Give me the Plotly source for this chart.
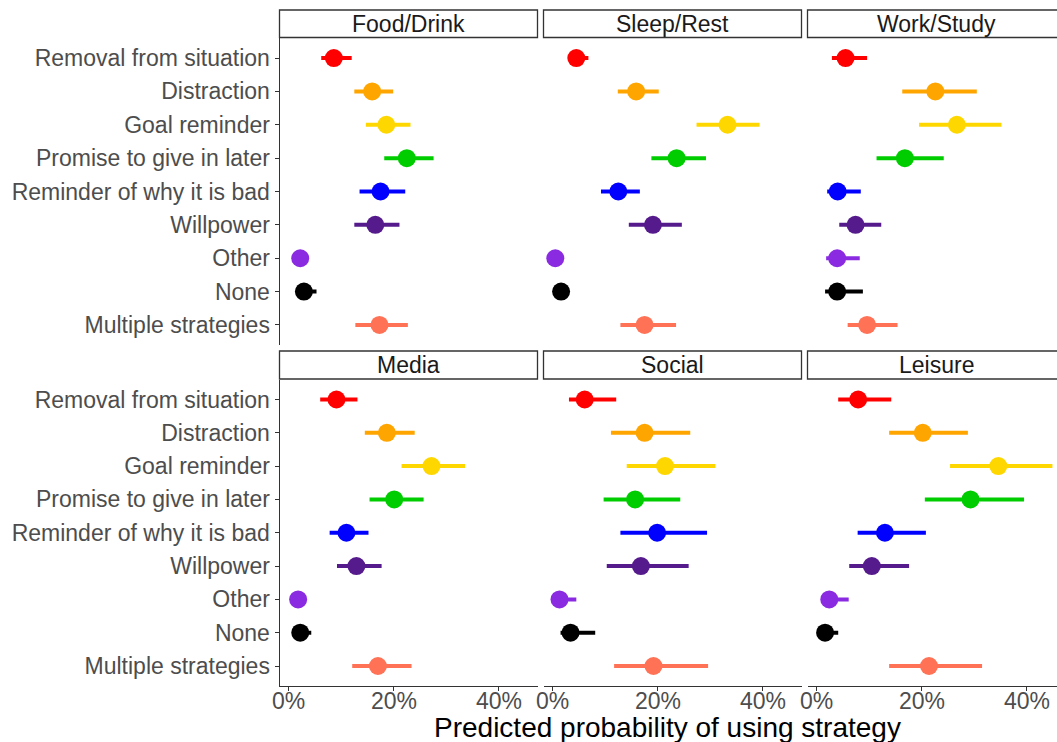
import plotly.graph_objects as go

strategies = ["Removal from situation", "Distraction", "Goal reminder",
              "Promise to give in later", "Reminder of why it is bad",
              "Willpower", "Other", "None", "Multiple strategies"]
colors = ["#FF0000", "#FFA500", "#FFD700", "#00CD00", "#0000FF",
          "#551A8B", "#8A2BE2", "#000000", "#FF7256"]
panels = ["Food/Drink", "Sleep/Rest", "Work/Study", "Media", "Social", "Leisure"]
x_tick_vals = [0, 20, 40]
x_tick_text = ["0%", "20%", "40%"]

food_est = [8.6, 15.9, 18.6, 22.5, 17.5, 16.5, 2.2, 2.9, 17.3]
food_lo = [6.2, 12.5, 14.7, 18.2, 13.5, 12.5, 1.4, 1.8, 12.7]
food_hi = [12.0, 19.9, 23.2, 27.6, 22.2, 21.1, 3.2, 5.3, 22.7]

sleep_est = [4.5, 15.9, 33.3, 23.6, 12.5, 19.1, 0.5, 1.6, 17.5]
sleep_lo = [3.0, 12.4, 27.4, 18.8, 9.2, 14.5, 0.2, 0.9, 12.9]
sleep_hi = [6.8, 20.2, 39.4, 29.2, 16.6, 24.6, 1.2, 2.6, 23.5]

work_est = [5.5, 22.6, 26.7, 16.8, 4.0, 7.4, 3.9, 3.9, 9.6]
work_lo = [2.9, 16.3, 19.5, 11.4, 2.0, 4.3, 1.8, 1.6, 5.9]
work_hi = [9.6, 30.5, 35.2, 24.2, 8.4, 12.3, 8.2, 8.8, 15.4]

media_est = [9.1, 18.7, 27.2, 20.1, 11.0, 12.9, 1.8, 2.2, 17.0]
media_lo = [6.0, 14.5, 21.5, 15.4, 7.8, 9.2, 1.1, 1.4, 12.1]
media_hi = [13.1, 24.0, 33.6, 25.7, 15.2, 17.7, 3.2, 4.3, 23.4]

social_est = [6.1, 17.5, 21.4, 15.7, 19.9, 16.8, 1.3, 3.4, 19.2]
social_lo = [3.1, 11.1, 14.1, 9.7, 12.9, 10.3, 0.5, 1.5, 11.7]
social_hi = [12.1, 26.2, 31.0, 24.3, 29.4, 25.9, 4.5, 8.1, 29.6]

leisure_est = [7.9, 20.2, 34.6, 29.3, 13.0, 10.5, 2.4, 1.6, 21.4]
leisure_lo = [4.1, 13.8, 25.4, 20.6, 7.8, 6.2, 1.0, 0.8, 13.8]
leisure_hi = [14.2, 28.8, 44.9, 39.5, 20.8, 17.6, 6.1, 4.1, 31.5]

panel_data = [
    (food_est, food_lo, food_hi),
    (sleep_est, sleep_lo, sleep_hi),
    (work_est, work_lo, work_hi),
    (media_est, media_lo, media_hi),
    (social_est, social_lo, social_hi),
    (leisure_est, leisure_lo, leisure_hi),
]

W, H = 1057, 742
FONT = "Liberation Sans, Arial, sans-serif"
col_left = [279.5, 543.5, 807.5]
panel_w = 258
pxpp = 5.25          # pixels per percentage point
xmin = -1.75
row_top = [38, 379.5]
row_bot = [345, 686]
strip_top = [10, 351]
strip_bot = [37.5, 379]

fig = go.Figure()
layout = dict(
    width=W, height=H, margin=dict(l=0, r=0, t=0, b=0, autoexpand=False),
    paper_bgcolor="white", plot_bgcolor="white", showlegend=False,
    font=dict(family=FONT),
)
shapes = []
annotations = []

for i, (name, (est, lo, hi)) in enumerate(zip(panels, panel_data)):
    r, c = divmod(i, 3)
    n = i + 1
    xname = "x" if n == 1 else f"x{n}"
    yname = "y" if n == 1 else f"y{n}"
    for k in range(len(strategies)):
        fig.add_trace(go.Scatter(
            x=[est[k]], y=[k + 1], mode="markers",
            marker=dict(size=18, color=colors[k], line=dict(width=0)),
            error_x=dict(type="data", symmetric=False,
                         array=[hi[k] - est[k]], arrayminus=[est[k] - lo[k]],
                         color=colors[k], thickness=4, width=0),
            xaxis=xname, yaxis=yname, hoverinfo="skip",
        ))
    left = col_left[c]
    right = min(left + panel_w, W)
    xmax = xmin + (right - left) / pxpp
    bottom_row = (r == 1)
    first_col = (c == 0)
    layout["xaxis" if n == 1 else f"xaxis{n}"] = dict(
        domain=[left / W, right / W], range=[xmin, xmax],
        tickvals=x_tick_vals, ticktext=x_tick_text,
        showticklabels=False, ticks="outside" if bottom_row else "",
        ticklen=4, tickcolor="#333333", tickwidth=1,
        showline=bottom_row, linecolor="#333333", linewidth=1,
        showgrid=False, zeroline=False, automargin=False,
        anchor=yname, fixedrange=True,
    )
    layout["yaxis" if n == 1 else f"yaxis{n}"] = dict(
        domain=[1 - row_bot[r] / H, 1 - row_top[r] / H], range=[9.6, 0.4],
        tickvals=list(range(1, 10)), ticktext=strategies,
        showticklabels=first_col, ticks="outside" if first_col else "",
        ticklen=4, tickcolor="#333333", tickwidth=1,
        showline=first_col, linecolor="#333333", linewidth=1,
        showgrid=False, zeroline=False, automargin=False,
        tickfont=dict(size=23, color="#4D4D4D", family=FONT),
        anchor=xname, fixedrange=True,
    )
    if bottom_row:
        for tv, tt in zip(x_tick_vals, x_tick_text):
            if tv <= xmax:
                annotations.append(dict(
                    text=tt, xref=xname, yref="paper", x=tv, y=1 - 701 / H,
                    showarrow=False, xanchor="center", yanchor="middle",
                    font=dict(size=23, color="#4D4D4D", family=FONT)))
    # strip
    sx1 = (left + panel_w) / W if c < 2 else 1.01
    shapes.append(dict(type="rect", xref="paper", yref="paper",
                       x0=left / W, x1=sx1,
                       y0=1 - strip_bot[r] / H, y1=1 - strip_top[r] / H,
                       line=dict(color="#333333", width=1.3), fillcolor="white"))
    annotations.append(dict(text=name, xref="paper", yref="paper",
                            x=(left + panel_w / 2) / W,
                            y=1 - (strip_top[r] + strip_bot[r]) / 2 / H,
                            showarrow=False, xanchor="center", yanchor="middle",
                            font=dict(size=23, color="#1A1A1A", family=FONT)))

annotations.append(dict(text="Predicted probability of using strategy",
                        xref="paper", yref="paper", x=667.5 / W, y=1 - 727 / H,
                        showarrow=False, xanchor="center", yanchor="middle",
                        font=dict(size=28, color="#000000", family=FONT)))
layout["shapes"] = shapes
layout["annotations"] = annotations
fig.update_layout(**layout)
fig.write_html("out.html")
